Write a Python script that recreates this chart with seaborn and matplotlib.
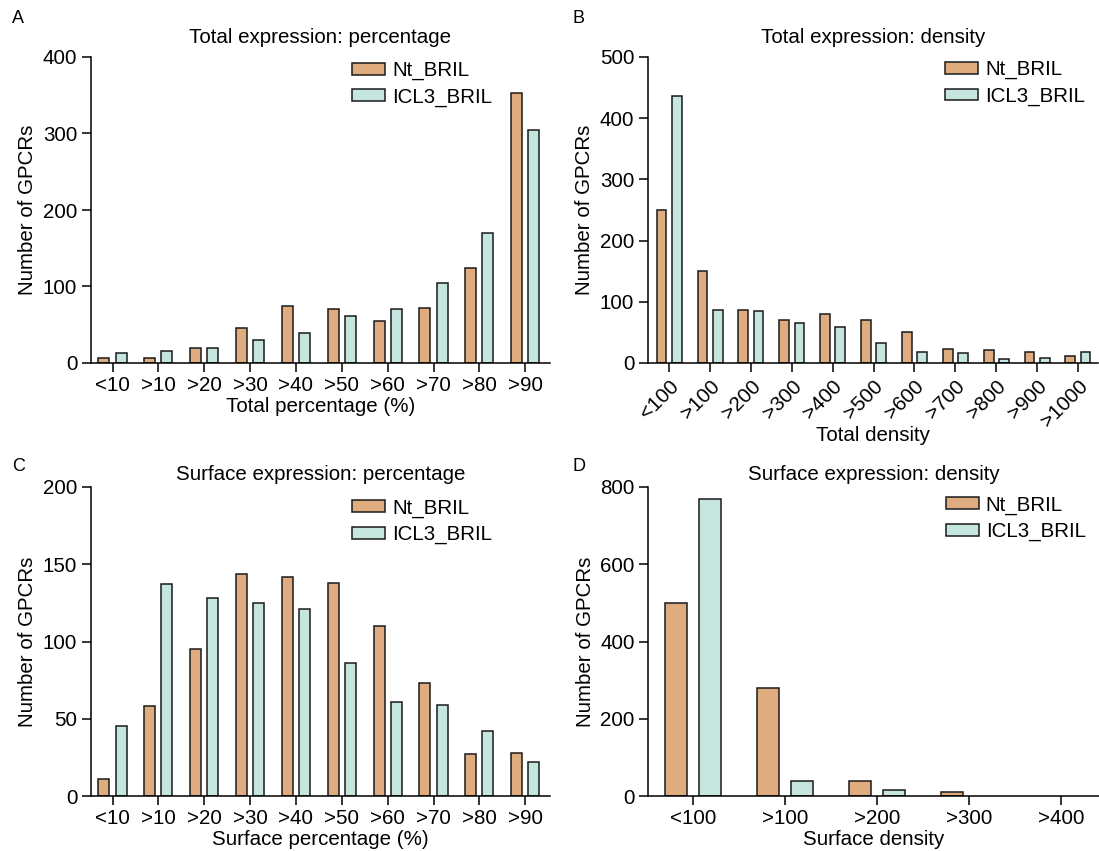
import matplotlib
matplotlib.use("Agg")
import matplotlib.pyplot as plt
import pandas as pd
import seaborn as sns

sns.set_style("ticks")
plt.rcParams['font.family'] = ['Liberation Sans', 'DejaVu Sans']
plt.rcParams['text.color'] = 'black'
plt.rcParams['axes.labelcolor'] = 'black'
plt.rcParams['xtick.color'] = 'black'
plt.rcParams['ytick.color'] = 'black'

# data
pct_bins = ['<10', '>10', '>20', '>30', '>40', '>50', '>60', '>70', '>80', '>90']
total_pct_nt = [7, 6, 20, 46, 75, 70, 55, 72, 124, 353]
total_pct_icl3 = [13, 16, 19, 30, 39, 62, 70, 105, 170, 304]

total_den_bins = ['<100', '>100', '>200', '>300', '>400', '>500', '>600', '>700', '>800', '>900', '>1000']
total_den_nt = [250, 151, 87, 70, 80, 71, 50, 23, 21, 18, 12]
total_den_icl3 = [437, 87, 85, 65, 59, 33, 18, 16, 6, 8, 18]

surf_pct_nt = [11, 58, 95, 144, 142, 138, 110, 73, 27, 28]
surf_pct_icl3 = [45, 137, 128, 125, 121, 86, 61, 59, 42, 22]

surf_den_bins = ['<100', '>100', '>200', '>300', '>400']
surf_den_nt = [500, 279, 39, 11, 0]
surf_den_icl3 = [770, 38, 15, 0, 0]

groups = ['Nt_BRIL', 'ICL3_BRIL']
colors = {'Nt_BRIL': '#DFAC80', 'ICL3_BRIL': '#C5E5DF'}


def make_df(bins, nt, icl3):
    return pd.DataFrame({
        'bin': bins * 2,
        'count': nt + icl3,
        'construct': ['Nt_BRIL'] * len(bins) + ['ICL3_BRIL'] * len(bins),
    })


FS = 14.8
fig = plt.figure(figsize=(10.99, 8.51), dpi=100)

W, H = 1099, 851


def px_axes(left, right, top, bottom):
    return fig.add_axes([left / W, 1 - bottom / H, (right - left) / W, (bottom - top) / H])


axA = px_axes(90.5, 550, 57, 363)
axB = px_axes(647.5, 1098, 57, 363)
axC = px_axes(90.5, 550, 487, 796)
axD = px_axes(648, 1099, 487, 796)

# ax, data, order, title, xlabel, ymax, ystep, title pad, xlabel pad, legend anchor
panels = [
    (axA, make_df(pct_bins, total_pct_nt, total_pct_icl3), pct_bins,
     'Total expression: percentage', 'Total percentage (%)', 400, 100, 10, 1, (0.569, 0.987)),
    (axB, make_df(total_den_bins, total_den_nt, total_den_icl3), total_den_bins,
     'Total expression: density', 'Total density', 500, 100, 10, -3, (0.66, 0.99)),
    (axC, make_df(pct_bins, surf_pct_nt, surf_pct_icl3), pct_bins,
     'Surface expression: percentage', 'Surface percentage (%)', 200, 50, 5, 1, (0.569, 0.963)),
    (axD, make_df(surf_den_bins, surf_den_nt, surf_den_icl3), surf_den_bins,
     'Surface expression: density', 'Surface density', 800, 200, 5, 1, (0.66, 0.973)),
]

for ax, df, bins, title, xlabel, ymax, ystep, tpad, lpad, anchor in panels:
    sns.barplot(data=df, x='bin', y='count', hue='construct', order=bins,
                hue_order=groups, palette=colors, saturation=1, errorbar=None,
                width=0.744, gap=0.355, edgecolor='#1a1a1a', linewidth=1.1, ax=ax)
    ax.set_ylim(0, ymax)
    ax.set_yticks(range(0, ymax + 1, ystep))
    ax.set_title(title, fontsize=FS, pad=tpad)
    ax.set_xlabel(xlabel, fontsize=FS, labelpad=lpad)
    ax.set_ylabel('Number of GPCRs', fontsize=FS, labelpad=4)
    sns.despine(ax=ax)
    for s in ['left', 'bottom']:
        ax.spines[s].set_linewidth(1.1)
        ax.spines[s].set_color('black')
    ax.tick_params(axis='both', length=6.5, width=1.1, labelsize=FS, pad=3, color='black')
    handles, labels = ax.get_legend_handles_labels()
    ax.legend(handles, labels, loc='upper left', bbox_to_anchor=anchor,
              frameon=False, fontsize=FS, handlelength=1.6, handleheight=0.5,
              handletextpad=0.35, labelspacing=0.36, borderpad=0, borderaxespad=0)
    # empty bins show nothing in the reference
    for p in ax.patches:
        if p.get_height() == 0:
            p.set_linewidth(0)

axA.set_xlim(-0.48, 9.54)
axC.set_xlim(-0.48, 9.54)
axB.set_xlim(-0.53, 10.49)
axD.set_xlim(-0.49, 4.41)
for lab in axB.get_xticklabels():
    lab.set_rotation(45)
    lab.set_ha('right')
    lab.set_rotation_mode('anchor')

for letter, x, y in [('A', 12, 10), ('B', 572, 10), ('C', 12, 458), ('D', 572, 458)]:
    fig.text(x / W, 1 - y / H, letter, fontsize=13, ha='left', va='top')

fig.savefig('out.png', dpi=100)
